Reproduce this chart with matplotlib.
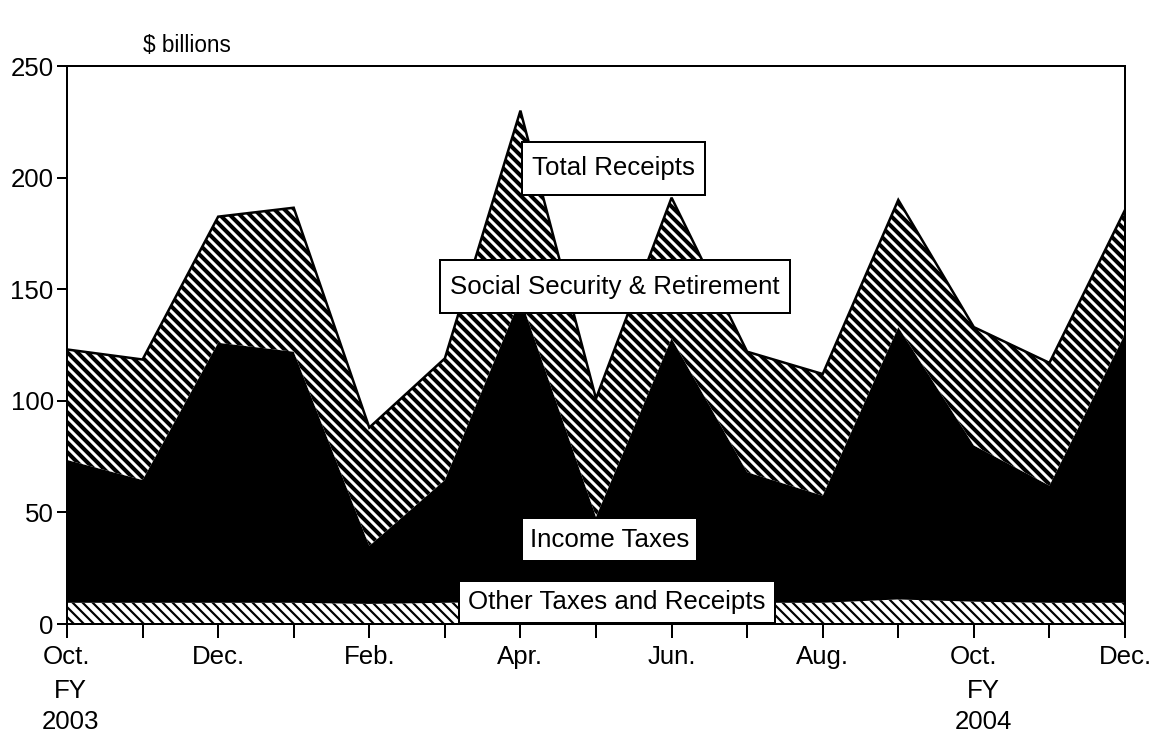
import matplotlib
matplotlib.use("Agg")
import matplotlib.pyplot as plt
from matplotlib.patches import Rectangle
import numpy as np

# monthly receipts, Oct FY2003 .. Dec FY2004, $ billions
months = ["Oct.", "Nov.", "Dec.", "Jan.", "Feb.", "Mar.", "Apr.", "May", "Jun.",
          "Jul.", "Aug.", "Sep.", "Oct.", "Nov.", "Dec."]
other = [9.5, 9.5, 9.5, 9.5, 9, 9.5, 10, 9, 9.5, 9.5, 9.5, 11, 10, 9.5, 9.5]
income = [64, 55, 116.5, 112.5, 26, 55, 136, 39, 118.5, 58.5, 48, 122, 70, 52.5, 120.5]
social_sec = [49.5, 54, 56.5, 64.5, 53, 54.5, 84, 53, 63, 54, 54.5, 57, 53, 55, 55.5]

plt.rcParams['font.family'] = ['Liberation Sans', 'DejaVu Sans']

x = np.arange(len(months))
lvl1 = np.array(other)
lvl2 = lvl1 + np.array(income)
total = lvl2 + np.array(social_sec)

fig = plt.figure(figsize=(1160 / 120, 741 / 120), dpi=120)
ax = fig.add_axes([67 / 1160, 1 - 624 / 741, (1125 - 67) / 1160, (624 - 66) / 741])

# bottom band - black hatch on white
with plt.rc_context({'hatch.color': 'black', 'hatch.linewidth': 1.3}):
    ax.fill_between(x, 0, lvl1, facecolor='white', edgecolor='black',
                    hatch='\\\\\\\\', linewidth=0)
# income taxes - solid black
ax.fill_between(x, lvl1, lvl2, facecolor='black', linewidth=0)
# social security - white hatch on black
with plt.rc_context({'hatch.color': 'white', 'hatch.linewidth': 1.8}):
    ax.fill_between(x, lvl2, total, facecolor='black', edgecolor='white',
                    hatch='\\\\\\\\', linewidth=0)
ax.plot(x, total, color='black', lw=1.5, solid_joinstyle='miter')

ax.set_xlim(0, len(months) - 1)
ax.set_ylim(0, 250)
ax.set_yticks([0, 50, 100, 150, 200, 250])
ax.set_xticks(x)
ax.set_xticklabels([m if i % 2 == 0 else "" for i, m in enumerate(months)])
ax.tick_params(axis='x', direction='out', length=8.5, width=1.2, pad=4, labelsize=15.5)
ax.tick_params(axis='y', direction='out', length=6, width=1.2, pad=2, labelsize=15.5)
for s in ax.spines.values():
    s.set_linewidth(1.2)

# series labels in boxes (x in months, y in $ billions)
boxes = [
    ("Total Receipts", 6.02, 192.2, 8.44, 216.0),
    ("Social Security & Retirement", 4.94, 139.3, 9.57, 163.1),
    ("Income Taxes", 6.02, 28.2, 8.34, 47.5),
    ("Other Taxes and Receipts", 5.19, 0.4, 9.37, 19.3),
]
for txt, x0, y0, x1, y1 in boxes:
    ax.add_patch(Rectangle((x0, y0), x1 - x0, y1 - y0, facecolor='white',
                           edgecolor='black', lw=1.2, zorder=5))
    ax.text((x0 + x1) / 2, (y0 + y1) / 2, txt, ha='center', va='center',
            fontsize=15.5, zorder=6)

ax.text(0.0718, 1.0376, "$ billions", transform=ax.transAxes, fontsize=13.5,
        ha='left', va='center')

tr = ax.get_xaxis_transform()
ax.text(0.05, -0.120, "FY", transform=tr, ha='center', va='center', fontsize=15.5)
ax.text(0.05, -0.176, "2003", transform=tr, ha='center', va='center', fontsize=15.5)
ax.text(12.13, -0.120, "FY", transform=tr, ha='center', va='center', fontsize=15.5)
ax.text(12.13, -0.176, "2004", transform=tr, ha='center', va='center', fontsize=15.5)

fig.savefig("out.png", dpi=120)
